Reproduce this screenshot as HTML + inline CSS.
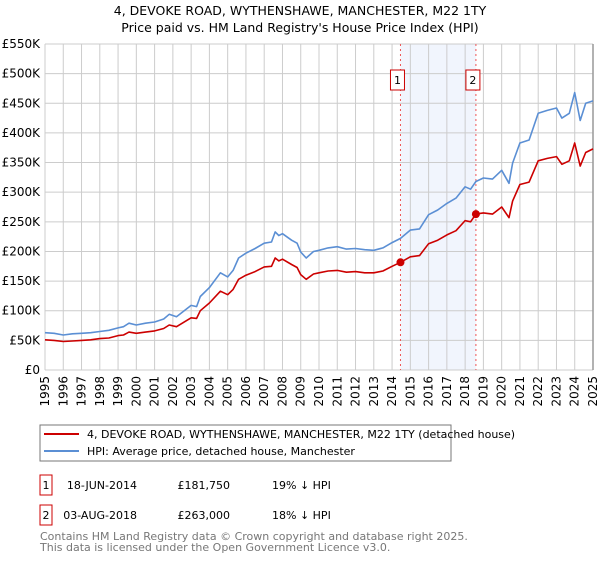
<!DOCTYPE html>
<html><head><meta charset="utf-8"><style>
body{margin:0;background:#fff;width:600px;height:560px;overflow:hidden;font-family:"DejaVu Sans","Liberation Sans",sans-serif}
svg text{font-family:"DejaVu Sans","Liberation Sans",sans-serif}
</style></head><body>
<svg id="chart" width="600" height="560" xmlns="http://www.w3.org/2000/svg">
<text x="300" y="15" text-anchor="middle" font-size="12.5">4, DEVOKE ROAD, WYTHENSHAWE, MANCHESTER, M22 1TY</text>
<text x="300" y="32" text-anchor="middle" font-size="12.5">Price paid vs. HM Land Registry's House Price Index (HPI)</text>
<g id="grid"></g>
<g id="marks"></g>
<g id="axes"></g>
<g>
<rect x="40" y="425" width="411" height="36" fill="#fff" stroke="#777"/>
<line x1="44" y1="434" x2="79" y2="434" stroke="#cc0000" stroke-width="2"/>
<text x="87" y="438" font-size="11">4, DEVOKE ROAD, WYTHENSHAWE, MANCHESTER, M22 1TY (detached house)</text>
<line x1="44" y1="451" x2="79" y2="451" stroke="#5b8fd4" stroke-width="2"/>
<text x="87" y="455" font-size="11">HPI: Average price, detached house, Manchester</text>
</g>
<g font-size="11">
<rect x="40" y="475" width="12" height="20" fill="#fff" stroke="#cc0000"/>
<text x="46" y="489" text-anchor="middle">1</text>
<text x="137" y="489" text-anchor="end">18-JUN-2014</text>
<text x="230" y="489" text-anchor="end">£181,750</text>
<text x="272" y="489">19% ↓ HPI</text>
<rect x="40" y="505" width="12" height="20" fill="#fff" stroke="#cc0000"/>
<text x="46" y="519" text-anchor="middle">2</text>
<text x="137" y="519" text-anchor="end">03-AUG-2018</text>
<text x="230" y="519" text-anchor="end">£263,000</text>
<text x="272" y="519">18% ↓ HPI</text>
</g>
<text x="40" y="540" font-size="11" fill="#777">Contains HM Land Registry data © Crown copyright and database right 2025.</text>
<text x="40" y="551" font-size="11" fill="#777">This data is licensed under the Open Government Licence v3.0.</text>
</svg>
<script>
const hpiYears=[1995,1995.5,1996,1996.5,1997,1997.5,1998,1998.5,1999,1999.3,1999.6,2000,2000.5,2001,2001.5,2001.8,2002.2,2003,2003.3,2003.5,2004,2004.6,2005,2005.3,2005.6,2006,2006.5,2007,2007.4,2007.6,2007.8,2008,2008.5,2008.8,2009,2009.3,2009.7,2010,2010.5,2011,2011.5,2012,2012.5,2013,2013.5,2014,2014.46,2015,2015.5,2016,2016.5,2017,2017.5,2018,2018.3,2018.59,2019,2019.5,2020,2020.4,2020.6,2021,2021.5,2022,2022.5,2023,2023.3,2023.7,2024,2024.3,2024.6,2025];
const hpiValues=[63,62,59,61,62,63,65,67,71,73,79,76,79,81,86,94,90,109,107,124,139,164,157,168,189,197,205,214,216,233,227,230,219,214,199,189,200,202,206,208,204,205,203,202,206,215,222,236,238,262,270,281,290,309,305,318,324,322,337,315,349,383,388,433,438,442,425,433,468,421,450,454];
const priceValues=[51,50,48,49,50,51,53,54,58,59,64,62,64,66,70,76,73,88,87,100,113,133,127,136,153,160,166,174,175,189,184,187,178,173,161,153,162,164,167,168,165,166,164,164,167,175,181.75,191,193,213,219,228,235,252,250,263,265,263,275,257,285,313,317,353,357,360,347,353,383,344,367,373];
const saleYears=[2014.46,2018.59];
const saleValues=[181.75,263];
const saleLabels=["1","2"];
const yTicks=[0,50,100,150,200,250,300,350,400,450,500,550];
const yTickLabels=["£0","£50K","£100K","£150K","£200K","£250K","£300K","£350K","£400K","£450K","£500K","£550K"];
const xTicks=[1995,1996,1997,1998,1999,2000,2001,2002,2003,2004,2005,2006,2007,2008,2009,2010,2011,2012,2013,2014,2015,2016,2017,2018,2019,2020,2021,2022,2023,2024,2025];

const NS="http://www.w3.org/2000/svg";
const X0=45,X1=593,Y0=370,Y1=44;
function sx(y){return X0+(y-1995)/30*(X1-X0);}
function sy(v){return Y0-v/550*(Y0-Y1);}
function mk(tag,attrs,parent){const e=document.createElementNS(NS,tag);for(const k in attrs)e.setAttribute(k,attrs[k]);parent.appendChild(e);return e;}
const grid=document.getElementById('grid'),marks=document.getElementById('marks'),axes=document.getElementById('axes');
let sh=mk('rect',{x:sx(saleYears[0]),y:Y1,width:sx(saleYears[1])-sx(saleYears[0]),height:Y0-Y1,fill:'#eef3fd',opacity:0.8},grid);


yTicks.forEach((t,i)=>{
  let l=mk('line',{x1:X0,x2:X1,y1:sy(t),y2:sy(t),stroke:'#cccccc'},grid);
  
  
  let tx=mk('text',{x:X0-5,y:sy(t)+4,'text-anchor':'end','font-size':'12'},axes);
  tx.textContent=yTickLabels[i];
  
  
});
xTicks.forEach(t=>{
  let l=mk('line',{x1:sx(t),x2:sx(t),y1:Y1,y2:Y0,stroke:'#cccccc'},grid);
  
  
  let tx=mk('text',{x:0,y:0,'text-anchor':'end','font-size':'12',transform:`translate(${sx(t)+4},${Y0+6}) rotate(-90)`},axes);
  tx.textContent=t;
  
  
});
let rb=mk('line',{x1:X1,x2:X1,y1:Y1,y2:Y0,stroke:'#999999','stroke-width':1.5},grid);


saleYears.forEach((y,i)=>{
  let l=mk('line',{x1:sx(y),x2:sx(y),y1:Y1,y2:Y0,stroke:'#ee5555','stroke-dasharray':'2,3','stroke-width':1},marks);
  
  
  let b=mk('rect',{x:sx(y)-10,y:70,width:14,height:20,fill:'#fff',stroke:'#cc0000'},marks);
  
  
  let t=mk('text',{x:sx(y)-3,y:84,'text-anchor':'middle','font-size':'11'},marks);
  t.textContent=saleLabels[i];
  
  
});
function path(vals,color,name){
  let d=vals.map((v,i)=>(i?'L':'M')+sx(hpiYears[i]).toFixed(1)+','+sy(v).toFixed(1)).join('');
  let p=mk('path',{d:d,fill:'none',stroke:color,'stroke-width':1.6,'stroke-linejoin':'round'},marks);
  
  
}
path(hpiValues,'#5b8fd4','hpi-line');
path(priceValues,'#cc0000','price-paid-line');
saleYears.forEach((y,i)=>{
  let c=mk('circle',{cx:sx(y),cy:sy(saleValues[i]),r:4,fill:'#cc0000'},marks);
  
  
});
</script>
</body></html>
